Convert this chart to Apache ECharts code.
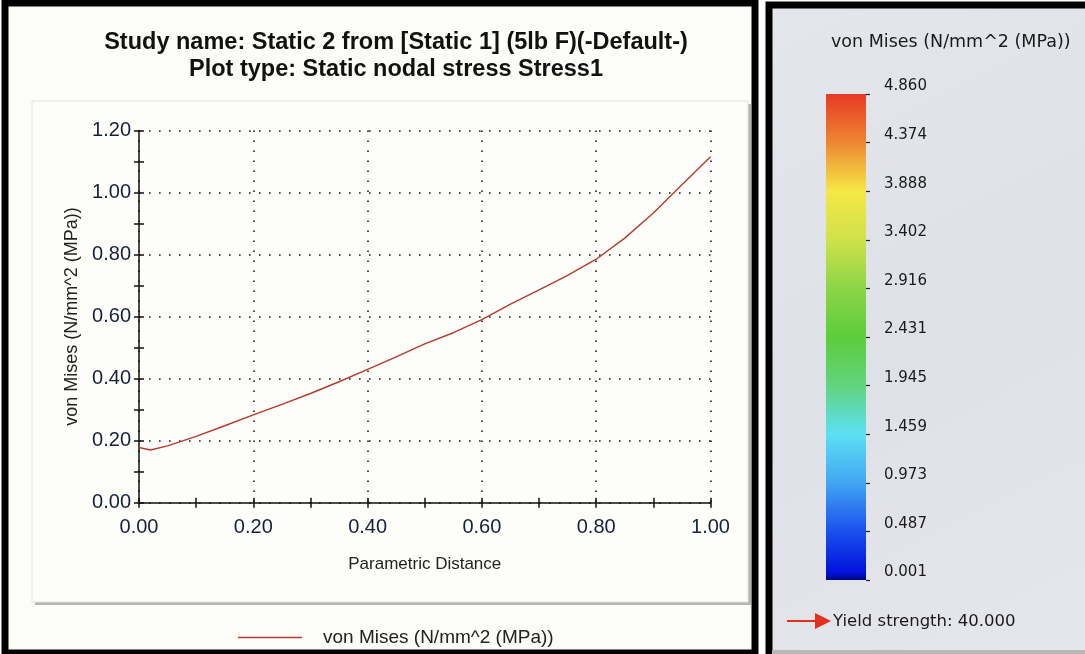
<!DOCTYPE html>
<html>
<head>
<meta charset="utf-8">
<script src="https://cdn.jsdelivr.net/npm/echarts@6/dist/echarts.min.js"></script>
<style>
  html, body { margin: 0; padding: 0; background: #ffffff; }
  #chart { width: 1085px; height: 654px; }
</style>
</head>
<body>
<div id="chart"></div>
<script>
// stress along the path
var distX = [0, 0.02, 0.05, 0.10, 0.15, 0.20, 0.25, 0.30, 0.35, 0.40, 0.45,
  0.50, 0.55, 0.60, 0.65, 0.70, 0.75, 0.80, 0.85, 0.90, 0.95, 1.00];
var stress = [0.178, 0.170, 0.183, 0.214, 0.248, 0.283, 0.317, 0.352, 0.390, 0.430, 0.470,
  0.512, 0.548, 0.590, 0.640, 0.686, 0.733, 0.785, 0.853, 0.934, 1.025, 1.115];

// colour scale legend
var colorMin = 0.001;
var colorMax = 4.860;
var colorTicks = [0.001, 0.487, 0.973, 1.459, 1.945, 2.431, 2.916, 3.402, 3.888, 4.374, 4.860];
var yieldStrength = 40.000;

var seriesName = 'von Mises (N/mm^2 (MPa))';
var sansFont = '"Liberation Sans", Arial, sans-serif';
var uiFont = '"DejaVu Sans", Tahoma, sans-serif';
var lineColor = '#b83a2c';

var chart = echarts.init(document.getElementById('chart'));

var points = distX.map(function(x, i) {
  return [x, stress[i]];
});

var dotted = {
  color: '#1a1a1a',
  width: 1.6,
  type: [1.6, 8.4]
};

// the plot has ticks crossing the axis line, so each axis is built twice:
// once with outward ticks (plus labels, grid), once with inward ticks only
function xTickAxis(inside) {
  return {
    type: 'value',
    gridIndex: 0,
    position: 'bottom',
    min: 0,
    max: 1,
    interval: 0.2,
    axisLine: { show: !inside, onZero: false, lineStyle: { color: '#111', width: 1.5 } },
    axisTick: { show: true, inside: inside, length: 5, lineStyle: { color: '#111', width: 1.5 } },
    minorTick: { show: true, splitNumber: 2, length: 5, lineStyle: { color: '#111', width: 1.5 } },
    axisLabel: {
      show: !inside,
      margin: 15,
      fontFamily: sansFont,
      fontSize: 20,
      color: '#16203a',
      formatter: function(v) { return v.toFixed(2); }
    },
    splitLine: { show: !inside, lineStyle: dotted },
    name: inside ? '' : 'Parametric Distance',
    nameLocation: 'middle',
    nameGap: 53,
    nameTextStyle: { fontFamily: sansFont, fontSize: 17, color: '#222' }
  };
}

function yTickAxis(inside) {
  return {
    type: 'value',
    gridIndex: 0,
    position: 'left',
    min: 0,
    max: 1.2,
    interval: 0.2,
    axisLine: { show: !inside, onZero: false, lineStyle: { color: '#111', width: 1.5 } },
    axisTick: { show: true, inside: inside, length: 5, lineStyle: { color: '#111', width: 1.5 } },
    minorTick: { show: true, splitNumber: 2, length: 5, lineStyle: { color: '#111', width: 1.5 } },
    axisLabel: {
      show: !inside,
      margin: 8,
      fontFamily: sansFont,
      fontSize: 20,
      color: '#16203a',
      formatter: function(v) { return v.toFixed(2); }
    },
    splitLine: { show: !inside, lineStyle: dotted },
    name: inside ? '' : seriesName,
    nameLocation: 'middle',
    nameGap: 58,
    nameTextStyle: { fontFamily: sansFont, fontSize: 18, color: '#222' }
  };
}

chart.setOption({
  animation: false,
  backgroundColor: '#ffffff',
  graphic: [
    // left panel frame
    { type: 'rect', z: -20, shape: { x: 5, y: 3, width: 750, height: 650 },
      style: { fill: '#fcfcf8', stroke: '#000', lineWidth: 7 } },
    // plot box with shadow
    { type: 'rect', z: -19, shape: { x: 35, y: 104, width: 716, height: 501 },
      style: { fill: '#b4b4b4' } },
    { type: 'rect', z: -18, shape: { x: 32, y: 101, width: 716, height: 501 },
      style: { fill: '#fdfdfa', stroke: '#e2e2e2', lineWidth: 1 } },
    // right panel
    { type: 'rect', z: -20, shape: { x: 769, y: 5, width: 330, height: 660 },
      style: {
        fill: new echarts.graphic.LinearGradient(0, 0, 1, 1, [
          { offset: 0, color: '#e4e6ec' },
          { offset: 0.5, color: '#dfe1e8' },
          { offset: 1, color: '#e6e7ec' }
        ]),
        stroke: '#000', lineWidth: 7
      } },
    { type: 'rect', z: -19, shape: { x: 772, y: 650, width: 320, height: 4 },
      style: { fill: '#b8b8b8' } },
    // yield strength marker
    { type: 'line', shape: { x1: 787, y1: 621, x2: 817, y2: 621 },
      style: { stroke: '#e2301c', lineWidth: 2 } },
    { type: 'polygon', shape: { points: [[815, 613], [831, 621], [815, 629]] },
      style: { fill: '#e2301c' } },
    { type: 'text', left: 833, top: 613,
      style: { text: 'Yield strength: ' + yieldStrength.toFixed(3), fontFamily: uiFont,
        fontSize: 16.5, fill: '#1a1a1a' } }
  ],
  title: [
    {
      text: 'Study name: Static 2 from [Static 1] (5lb F)(-Default-)\nPlot type: Static nodal stress Stress1',
      left: 391,
      top: 24,
      textAlign: 'center',
      textStyle: {
        fontFamily: sansFont,
        fontWeight: 'bold',
        fontSize: 23.5,
        lineHeight: 27,
        color: '#111'
      }
    },
    {
      text: seriesName,
      left: 826,
      top: 28,
      textStyle: { fontFamily: uiFont, fontWeight: 'normal', fontSize: 17.5, color: '#1a1a1a' }
    }
  ],
  legend: {
    data: [seriesName],
    left: 233,
    top: 623,
    icon: 'rect',
    itemWidth: 64,
    itemHeight: 1.5,
    itemStyle: { color: lineColor },
    textStyle: {
      fontFamily: sansFont,
      fontSize: 19,
      color: '#222',
      padding: [0, 0, 0, 16]
    }
  },
  grid: [
    { left: 139, right: 374.5, top: 130.5, bottom: 151.3 },
    { left: 826, width: 40, top: 94, bottom: 74 }
  ],
  xAxis: [
    xTickAxis(false),
    xTickAxis(true),
    {
      type: 'category',
      gridIndex: 1,
      data: ['scale'],
      show: false
    }
  ],
  yAxis: [
    yTickAxis(false),
    yTickAxis(true),
    {
      type: 'value',
      gridIndex: 1,
      position: 'right',
      min: colorMin,
      max: colorMax,
      axisLine: { show: false },
      splitLine: { show: false },
      axisTick: {
        show: true,
        length: 4,
        customValues: colorTicks,
        lineStyle: { color: '#222', width: 1.2 }
      },
      axisLabel: {
        margin: 18,
        customValues: colorTicks,
        verticalAlign: 'bottom',
        fontFamily: uiFont,
        fontSize: 15,
        color: '#1a1a1a',
        formatter: function(v) { return v.toFixed(3); }
      }
    }
  ],
  series: [
    {
      name: seriesName,
      type: 'line',
      xAxisIndex: 0,
      yAxisIndex: 0,
      data: points,
      symbol: 'none',
      smooth: false,
      lineStyle: { color: lineColor, width: 1.4 },
      itemStyle: { color: lineColor }
    },
    {
      name: 'scale',
      type: 'bar',
      xAxisIndex: 2,
      yAxisIndex: 2,
      data: [colorMax],
      barWidth: '100%',
      itemStyle: {
        color: new echarts.graphic.LinearGradient(0, 0, 0, 1, [
          { offset: 0, color: '#e63a26' },
          { offset: 0.1, color: '#ee8733' },
          { offset: 0.2, color: '#f5e846' },
          { offset: 0.3, color: '#cfe24a' },
          { offset: 0.4, color: '#8cd548' },
          { offset: 0.5, color: '#5ccd3a' },
          { offset: 0.6, color: '#62d47e' },
          { offset: 0.7, color: '#5ce0f4' },
          { offset: 0.8, color: '#42a6f2' },
          { offset: 0.9, color: '#1a50ee' },
          { offset: 0.985, color: '#0012dc' },
          { offset: 1, color: '#00087a' }
        ])
      }
    }
  ]
});
</script>
</body>
</html>
